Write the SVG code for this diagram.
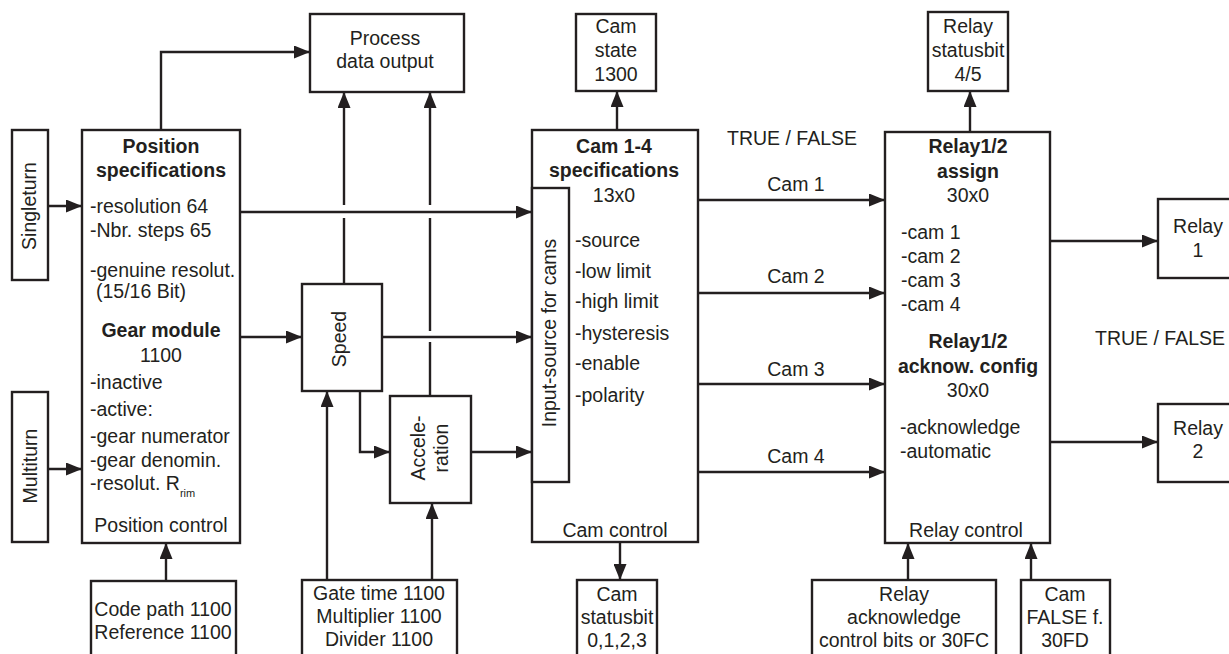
<svg xmlns="http://www.w3.org/2000/svg" width="1229" height="654" viewBox="0 0 1229 654">
<defs>
<marker id="ah" markerUnits="userSpaceOnUse" markerWidth="17" markerHeight="13" refX="16" refY="6.5" orient="auto">
<path d="M0,0 L16,6.5 L0,13 z" fill="#231f20"/>
</marker>
<style>
.box{fill:#fff;stroke:#231f20;stroke-width:2.4}
.ln{fill:none;stroke:#231f20;stroke-width:2.4}
.ar{marker-end:url(#ah)}
text{font-family:"Liberation Sans",Arial,Helvetica,sans-serif;font-size:19.5px;fill:#231f20}
.b{font-weight:bold}
.m{text-anchor:middle}
</style>
</defs>
<rect width="1229" height="654" fill="#fff"/>

<g id="connectors">
<path class="ln ar" d="M161,130 V52 H310"/>
<path class="ln ar" d="M48,206 H82"/>
<path class="ln ar" d="M48,469 H82"/>
<path class="ln ar" d="M240,212 H532"/>
<line class="ln" x1="344" y1="284" x2="344" y2="218"/>
<path class="ln ar" d="M344,205 V92"/>
<line class="ln" x1="430" y1="396" x2="430" y2="342"/>
<line class="ln" x1="430" y1="331" x2="430" y2="218"/>
<path class="ln ar" d="M430,205 V92"/>
<path class="ln ar" d="M240,337 H302"/>
<path class="ln ar" d="M382,337 H532"/>
<path class="ln ar" d="M360,391 V452 H390"/>
<path class="ln ar" d="M471,452 H532"/>
<path class="ln ar" d="M327,580 V391"/>
<path class="ln ar" d="M432,580 V503"/>
<path class="ln ar" d="M166,581 V543"/>
<path class="ln ar" d="M617,130 V91"/>
<path class="ln ar" d="M620,542 V580"/>
<path class="ln ar" d="M698,200 H885"/>
<path class="ln ar" d="M698,293 H885"/>
<path class="ln ar" d="M698,384 H885"/>
<path class="ln ar" d="M698,472 H885"/>
<path class="ln ar" d="M970,132 V91"/>
<path class="ln ar" d="M1050,241 H1158"/>
<path class="ln ar" d="M1050,442 H1158"/>
<path class="ln ar" d="M908,580 V543"/>
<path class="ln ar" d="M1031,580 V543"/>
<text class="m" x="796" y="191">Cam 1</text>
<text class="m" x="796" y="283">Cam 2</text>
<text class="m" x="796" y="376">Cam 3</text>
<text class="m" x="796" y="463">Cam 4</text>
<text x="727" y="145">TRUE / FALSE</text>
<text x="1095" y="345">TRUE / FALSE</text>
</g>

<g id="singleturn">
<rect class="box" x="12" y="130" width="36" height="150"/>
<text class="m" transform="translate(30,206) rotate(-90)" y="6">Singleturn</text>
</g>

<g id="multiturn">
<rect class="box" x="12" y="392" width="36" height="150"/>
<text class="m" transform="translate(30,466) rotate(-90)" y="7">Multiturn</text>
</g>

<g id="position">
<rect class="box" x="82" y="130" width="158" height="413"/>
<text class="m b" x="161" y="153">Position</text>
<text class="m b" x="161" y="177">specifications</text>
<text x="90" y="213">-resolution 64</text>
<text x="90" y="237">-Nbr. steps 65</text>
<text x="90" y="277">-genuine resolut.</text>
<text x="96" y="298">(15/16 Bit)</text>
<text class="m b" x="161" y="337">Gear module</text>
<text class="m" x="161" y="362">1100</text>
<text x="90" y="389">-inactive</text>
<text x="90" y="416">-active:</text>
<text x="90" y="443">-gear numerator</text>
<text x="90" y="467">-gear denomin.</text>
<text x="90" y="490">-resolut. R<tspan font-size="11" dy="7">rim</tspan></text>
<text class="m" x="161" y="532">Position control</text>
</g>

<g id="process">
<rect class="box" x="310" y="14" width="154" height="78"/>
<text class="m" x="385" y="45">Process</text>
<text class="m" x="385" y="68">data output</text>
</g>

<g id="speed">
<rect class="box" x="302" y="284" width="80" height="107"/>
<text class="m" transform="translate(340,339) rotate(-90)" y="6">Speed</text>
</g>

<g id="acceleration">
<rect class="box" x="390" y="396" width="81" height="107"/>
<text class="m" transform="translate(430,448) rotate(-90)" y="-5">Accele-</text>
<text class="m" transform="translate(430,448) rotate(-90)" y="18">ration</text>
</g>

<g id="camstate">
<rect class="box" x="576" y="14" width="80" height="77"/>
<text class="m" x="616" y="33">Cam</text>
<text class="m" x="616" y="57">state</text>
<text class="m" x="616" y="81">1300</text>
</g>

<g id="cam">
<rect class="box" x="532" y="130" width="166" height="412"/>
<rect class="box" x="532" y="188" width="37" height="294"/>
<text class="m" transform="translate(550,333) rotate(-90)" y="6">Input-source for cams</text>
<text class="m b" x="614" y="153">Cam 1-4</text>
<text class="m b" x="614" y="177">specifications</text>
<text class="m" x="614" y="202">13x0</text>
<text x="575" y="247">-source</text>
<text x="575" y="278">-low limit</text>
<text x="575" y="308">-high limit</text>
<text x="575" y="340">-hysteresis</text>
<text x="575" y="370">-enable</text>
<text x="575" y="402">-polarity</text>
<text class="m" x="615" y="537">Cam control</text>
</g>

<g id="camstatusbit">
<rect class="box" x="577" y="580" width="80" height="80"/>
<text class="m" x="617" y="601">Cam</text>
<text class="m" x="617" y="624">statusbit</text>
<text class="m" x="617" y="647">0,1,2,3</text>
</g>

<g id="relaystatusbit">
<rect class="box" x="928" y="12" width="80" height="79"/>
<text class="m" x="968" y="33">Relay</text>
<text class="m" x="968" y="57">statusbit</text>
<text class="m" x="968" y="81">4/5</text>
</g>

<g id="relay">
<rect class="box" x="885" y="132" width="165" height="411"/>
<text class="m b" x="968" y="153">Relay1/2</text>
<text class="m b" x="968" y="178">assign</text>
<text class="m" x="968" y="202">30x0</text>
<text x="901" y="239">-cam 1</text>
<text x="901" y="263">-cam 2</text>
<text x="901" y="287">-cam 3</text>
<text x="901" y="311">-cam 4</text>
<text class="m b" x="968" y="348">Relay1/2</text>
<text class="m b" x="968" y="373">acknow. config</text>
<text class="m" x="968" y="397">30x0</text>
<text x="900" y="434">-acknowledge</text>
<text x="900" y="458">-automatic</text>
<text class="m" x="966" y="537">Relay control</text>
</g>

<g id="relay1">
<rect class="box" x="1158" y="199" width="80" height="79"/>
<text class="m" x="1198" y="233">Relay</text>
<text class="m" x="1198" y="257">1</text>
</g>

<g id="relay2">
<rect class="box" x="1158" y="404" width="80" height="78"/>
<text class="m" x="1198" y="435">Relay</text>
<text class="m" x="1198" y="458">2</text>
</g>

<g id="codepath">
<rect class="box" x="91" y="581" width="145" height="80"/>
<text class="m" x="163" y="616">Code path 1100</text>
<text class="m" x="163" y="639">Reference 1100</text>
</g>

<g id="gate">
<rect class="box" x="302" y="580" width="155" height="80"/>
<text class="m" x="379" y="600">Gate time 1100</text>
<text class="m" x="379" y="623">Multiplier 1100</text>
<text class="m" x="379" y="646">Divider 1100</text>
</g>

<g id="relayack">
<rect class="box" x="812" y="580" width="184" height="80"/>
<text class="m" x="904" y="601">Relay</text>
<text class="m" x="904" y="624">acknowledge</text>
<text class="m" x="904" y="647">control bits or 30FC</text>
</g>

<g id="camfalse">
<rect class="box" x="1021" y="580" width="89" height="80"/>
<text class="m" x="1065" y="601">Cam</text>
<text class="m" x="1065" y="624">FALSE f.</text>
<text class="m" x="1065" y="647">30FD</text>
</g>
</svg>
